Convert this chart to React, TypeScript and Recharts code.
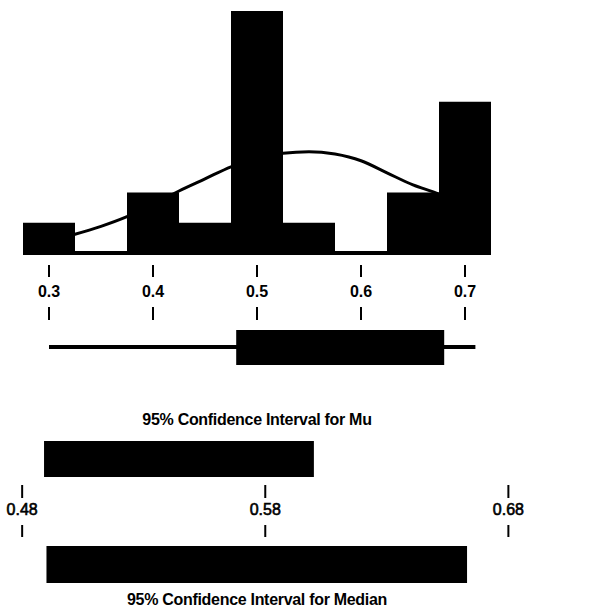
import { ComposedChart, Bar, Line, XAxis, YAxis } from 'recharts';

// histogram bins (bin centre, count)
const binCenters = [0.3, 0.35, 0.4, 0.45, 0.5, 0.55, 0.6, 0.65, 0.7];
const binCounts = [1, 0, 2, 1, 8, 1, 0, 2, 5];

// fitted normal curve
const curveX = [0.3, 0.325, 0.35, 0.375, 0.4, 0.425, 0.45, 0.475, 0.5, 0.525, 0.55, 0.575, 0.6, 0.625, 0.65, 0.675, 0.7, 0.71];
const curveY = [0.4, 0.62, 0.88, 1.2, 1.6, 2.05, 2.45, 2.85, 3.12, 3.3, 3.35, 3.27, 3.05, 2.65, 2.25, 1.95, 1.5, 1.35];

const histTicks = [0.3, 0.4, 0.5, 0.6, 0.7];

// boxplot
const boxWhisker = [0.3, 0.71];
const boxQuartiles = [0.48, 0.68];

// confidence intervals
const muInterval = [0.489, 0.6];
const medianInterval = [0.49, 0.663];
const ciTicks = [0.48, 0.58, 0.68];

const FONT = '"Liberation Sans", Arial, Helvetica, sans-serif';

const histData = binCenters.map((b, i) => ({ bin: b, count: binCounts[i] }));
const curveData = curveX.map((x, i) => ({ x, y: curveY[i] }));
const boxData = [{ name: 'box', whisker: boxWhisker, box: boxQuartiles }];
const muData = [{ name: 'mu', ci: muInterval }];
const medianData = [{ name: 'median', ci: medianInterval }];

const HistTick = (props: any) => {
  const { x, y, payload } = props;
  return (
    <g>
      <line x1={x} x2={x} y1={y + 12} y2={y + 24} stroke="#000" strokeWidth={2} />
      <text x={x} y={y + 44} textAnchor="middle" fontFamily={FONT} fontSize={16} fontWeight="bold" fill="#000">
        {Number(payload.value).toFixed(1)}
      </text>
      <line x1={x} x2={x} y1={y + 54} y2={y + 67} stroke="#000" strokeWidth={2} />
    </g>
  );
};

const CiTick = (props: any) => {
  const { x, y, payload } = props;
  return (
    <g>
      <line x1={x} x2={x} y1={y + 3} y2={y + 16} stroke="#000" strokeWidth={2} />
      <text x={x} y={y + 33} textAnchor="middle" fontFamily={FONT} fontSize={16} fill="#000" stroke="#000" strokeWidth={0.6}>
        {Number(payload.value).toFixed(2)}
      </text>
      <line x1={x} x2={x} y1={y + 43} y2={y + 55} stroke="#000" strokeWidth={2} />
    </g>
  );
};

const titleStyle = {
  position: 'absolute' as const,
  left: 0,
  width: 514,
  textAlign: 'center' as const,
  fontFamily: FONT,
  fontSize: 16,
  lineHeight: '16px',
  fontWeight: 'bold' as const,
  letterSpacing: '-0.3px',
  color: '#000',
};

export default function App() {
  return (
    <div style={{ position: 'absolute', left: 0, top: 0, width: 607, height: 610, background: '#fff', overflow: 'hidden' }}>
      {/* histogram with normal curve */}
      <div style={{ position: 'absolute', left: 0, top: 0 }}>
        <ComposedChart width={607} height={323} data={histData} margin={{ top: 11, right: 116, bottom: 0, left: 23 }} barCategoryGap={0}>
          <XAxis xAxisId="cat" dataKey="bin" type="category" hide height={0} padding={{ left: 0, right: 0 }} />
          <XAxis
            xAxisId="num"
            dataKey="x"
            type="number"
            domain={[0.275, 0.725]}
            allowDataOverflow
            ticks={histTicks}
            height={70}
            tickSize={0}
            tickMargin={0}
            tickLine={false}
            axisLine={{ stroke: '#000', strokeWidth: 4 }}
            tick={HistTick}
          />
          <YAxis hide width={0} domain={[0, 8]} allowDataOverflow />
          <Bar xAxisId="cat" dataKey="count" fill="#000" isAnimationActive={false} />
          <Line
            xAxisId="num"
            data={curveData}
            dataKey="y"
            type="monotone"
            stroke="#000"
            strokeWidth={3}
            dot={false}
            activeDot={false}
            isAnimationActive={false}
          />
        </ComposedChart>
      </div>

      {/* boxplot */}
      <div style={{ position: 'absolute', left: 0, top: 322 }}>
        <ComposedChart width={607} height={50} layout="vertical" data={boxData} margin={{ top: 0, right: 116, bottom: 0, left: 23 }}>
          <XAxis type="number" domain={[0.275, 0.725]} allowDataOverflow hide height={0} />
          <YAxis yAxisId="w" type="category" dataKey="name" hide width={0} />
          <YAxis yAxisId="b" type="category" dataKey="name" hide width={0} />
          <Bar yAxisId="w" dataKey="whisker" barSize={4} fill="#000" isAnimationActive={false} />
          <Bar yAxisId="b" dataKey="box" barSize={35} fill="#000" isAnimationActive={false} />
        </ComposedChart>
      </div>

      <div style={{ ...titleStyle, top: 412 }}>95% Confidence Interval for Mu</div>

      {/* CI for mu with its axis */}
      <div style={{ position: 'absolute', left: 0, top: 436 }}>
        <ComposedChart width={607} height={106} layout="vertical" data={muData} margin={{ top: 0, right: 50, bottom: 0, left: 10 }}>
          <XAxis
            type="number"
            domain={[0.475, 0.7]}
            allowDataOverflow
            ticks={ciTicks}
            height={60}
            tickSize={0}
            tickMargin={0}
            tickLine={false}
            axisLine={false}
            tick={CiTick}
          />
          <YAxis type="category" dataKey="name" hide width={0} />
          <Bar dataKey="ci" barSize={36} fill="#000" isAnimationActive={false} />
        </ComposedChart>
      </div>

      {/* CI for median */}
      <div style={{ position: 'absolute', left: 0, top: 540 }}>
        <ComposedChart width={607} height={49} layout="vertical" data={medianData} margin={{ top: 0, right: 50, bottom: 0, left: 10 }}>
          <XAxis type="number" domain={[0.475, 0.7]} allowDataOverflow hide height={0} />
          <YAxis type="category" dataKey="name" hide width={0} />
          <Bar dataKey="ci" barSize={37} fill="#000" isAnimationActive={false} />
        </ComposedChart>
      </div>

      <div style={{ ...titleStyle, top: 592 }}>95% Confidence Interval for Median</div>
    </div>
  );
}
